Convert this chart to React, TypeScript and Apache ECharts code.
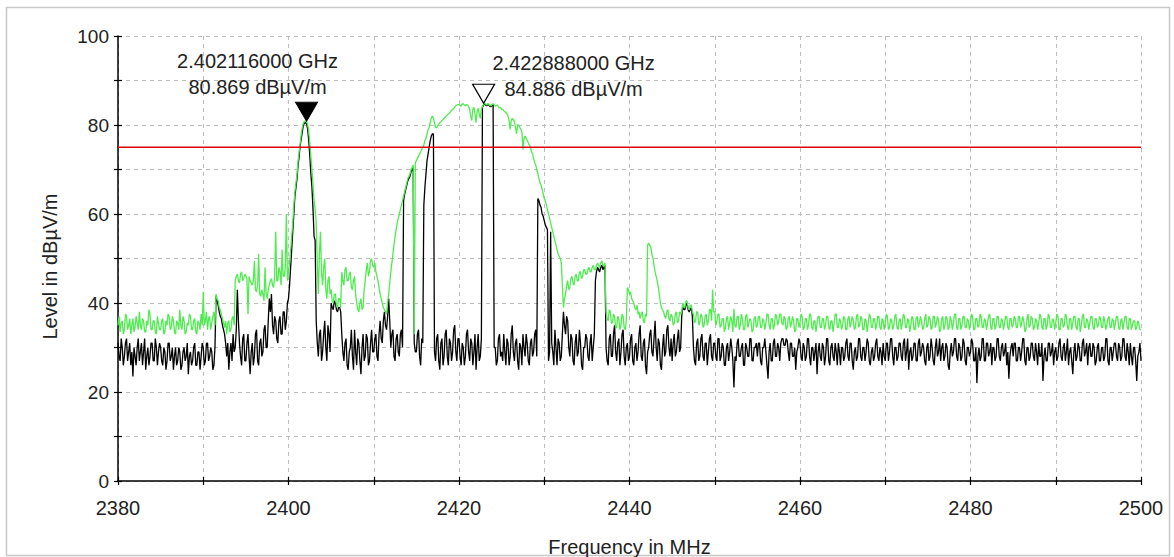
import React, { useEffect, useRef } from "react";
import * as echarts from "echarts";

// Sweep: 2380 MHz to 2500 MHz, one reading every 0.125 MHz (961 readings per trace)
const SWEEP_START_MHZ = 2380;
const SWEEP_STEP_MHZ = 0.125;

// Max-hold trace (green), dBµV/m, 40 readings (5 MHz) per row
const maxHoldLevels = [
  35, 37, 33.5, 35.5, 36, 33, 34, 37.5, 37, 34, 35, 36.5, 33, 35, 36.5, 33.5, 34.5, 37, 35.5, 34, 38, 35, 34, 36.5, 36, 33.5, 33.5, 36, 35, 38.5, 37.5, 34, 34, 36, 36, 33.5, 33, 37, 35.5, 34,
  34, 36, 36.5, 33, 33.5, 36, 35, 37.5, 37, 34, 34.5, 37, 36, 33.5, 33, 36, 35.5, 34, 38.5, 35, 34, 37, 36, 33, 33.5, 35.5, 35, 37.5, 37, 34, 34, 36, 36.5, 33.5, 33, 36, 35.5, 34, 37.5, 35,
  42.5, 35, 36, 38, 34, 36.5, 37, 34, 35.5, 37, 38, 35, 42, 41, 40.5, 39, 38.5, 37.5, 36.5, 35.5, 34.5, 36, 33, 35.5, 36, 33.5, 34, 36.5, 37, 35, 45, 46, 46.5, 45, 44.5, 46.5, 47, 45, 45.5, 46.5,
  46, 45.5, 37.5, 46, 45, 44.5, 44, 45, 49.5, 43, 42.5, 44, 51, 42, 41.5, 43, 42, 40.5, 48, 42, 41, 43, 44, 45, 45.5, 44, 43.5, 46, 56, 45, 45, 48, 47, 44, 52, 46, 46, 48, 60, 45,
  47, 49, 52, 55, 58, 62, 65, 67, 69, 72, 74, 76, 78, 79.5, 80.5, 80.8, 80.9, 80.7, 80.2, 78.5, 76, 73, 70, 66.5, 63, 61, 58, 49, 42, 51, 56, 47, 44, 48, 50, 43, 41, 45, 46, 42,
  43, 40.5, 40, 42, 42, 39.5, 39, 41, 41, 39, 47, 45, 44, 47.5, 48, 45, 45, 46.5, 47, 43.5, 43, 45, 46, 42, 40, 38.5, 38, 40, 41, 38.5, 39, 43, 45, 47.5, 49, 46, 47, 49.5, 50, 48.5,
  48, 49, 47, 46, 45, 43.5, 42, 41, 40, 39, 38.5, 38, 37.5, 40, 42, 44.5, 47, 49, 51, 53, 55, 56.5, 58, 59, 60, 61, 62, 63, 64, 65, 66, 67, 68, 68.5, 69, 70, 70.5, 71, 33, 71.5,
  72, 72.5, 73, 73.5, 74, 74.5, 75, 75.5, 76.5, 77, 78, 79, 79.5, 80.5, 81.5, 82, 81.6, 80.5, 79.5, 79.3, 79.8, 80.2, 80.5, 80.7, 81, 81.3, 81.5, 81.8, 82, 82.2, 82.5, 82.7, 83, 83.3, 83.5, 83.7, 84, 84.3, 84.5, 84.6,
  84.6, 84.4, 84.2, 84.7, 84.8, 84.5, 84.3, 84.6, 84.5, 84.2, 83.5, 82, 81, 83.5, 84, 82.5, 80.5, 83, 83.8, 82.5, 81.5, 83.5, 84.2, 84.6, 84.9, 84.7, 84.5, 84.8, 84.7, 84.4, 84.3, 84.6, 84.8, 84.6, 84.2, 84.4, 84.5, 84.1, 83.8, 84,
  83.5, 83.6, 83.2, 83, 82.8, 82.5, 82, 81, 79, 81, 81.5, 81.2, 80.8, 79.5, 78, 80, 80, 79.5, 79, 78.5, 74.5, 77, 77.5, 77, 76.5, 76, 75.5, 75, 74, 73.5, 72.5, 71.5, 71, 70, 69, 68, 67, 66.5, 65.5, 64.5,
  63.5, 63, 62, 61, 60, 59, 58, 57, 56, 55, 54, 53, 52, 51, 50.5, 50, 49, 44, 39, 41, 42, 44, 45, 43, 43.5, 45.5, 46, 44.5, 44, 46, 46.5, 45, 45, 47, 47, 45.5, 46, 47.5, 47.5, 46.5,
  46.5, 47.5, 48, 47, 47, 48, 48.5, 47.5, 47.5, 48.5, 49, 48.5, 48, 49, 49.5, 48.5, 48.5, 49, 38, 36.5, 36, 38.5, 38, 35.5, 35.5, 37.5, 37, 34.5, 34.5, 37, 36.5, 34, 35, 37.5, 37, 34.5, 34, 36, 43.5, 43,
  42, 42.5, 41, 40.5, 40, 39, 38.5, 39.5, 37.5, 38, 36.5, 37.5, 38, 36, 35.5, 37.5, 37, 53, 53.5, 53, 52.5, 51, 50, 48.5, 47, 46, 45, 43.5, 42, 40, 39, 38.5, 38, 37, 36.5, 38, 38.5, 36.5, 36, 37.5,
  37, 35, 35.5, 37.5, 38, 35.5, 36, 38, 37.5, 38, 40, 39, 39, 40.5, 40.5, 39, 38.5, 39.5, 39.5, 38, 37.5, 35.5, 36, 38, 38, 35, 35.5, 37.5, 37, 34.5, 35, 37, 37.5, 35, 36, 38.5, 38.5, 36, 43, 38,
  38, 35, 36, 37.5, 37.5, 34.5, 35, 36.5, 36.5, 33.5, 34.5, 36.5, 37, 34, 35.5, 37, 36, 33.5, 38.7, 35, 34.5, 37, 37, 34, 35, 37.5, 36.5, 34, 34, 37, 37.5, 34.5, 35.5, 36.5, 36, 33.5, 34, 36.5, 37, 34.5,
  35, 37, 37, 34.5, 34.5, 36.5, 36, 34, 35.5, 37.5, 37.5, 35, 34, 36.5, 36.5, 34, 35, 37.5, 37, 35, 36, 37.5, 37.5, 35.5, 35, 37, 36.5, 34, 34.5, 36.5, 37, 34.5, 35.5, 37, 36, 33.5, 34, 36.5, 36.5, 34.5,
  35.5, 37.5, 37, 34, 34.5, 36.5, 36.5, 34, 35, 37.5, 37.5, 34.5, 34, 36, 36, 33.5, 35.5, 37, 37, 34.5, 34.5, 36.5, 36.5, 34, 35, 37, 37, 34.5, 34, 36, 36, 33.5, 35.5, 37.5, 37.5, 34.5, 34.5, 36.5, 36, 34,
  35, 37, 36.5, 34, 34, 36.5, 37, 34.5, 35.5, 37, 36, 34, 34.5, 37, 37.5, 34.5, 35, 37, 36.5, 34, 34, 36.5, 36, 33.5, 35.5, 37.5, 37, 34.5, 34.5, 36.5, 36.5, 34, 35, 37, 37, 34.5, 34, 36.5, 36, 34,
  35.5, 37.5, 37, 34, 34.5, 36.5, 36, 34, 35, 37, 37.5, 34.5, 34, 36, 36.5, 34, 35.5, 37.5, 37, 34.5, 34.5, 36.5, 36, 33.5, 35, 37, 36.5, 34, 34, 36.5, 37, 34.5, 35.5, 37, 36, 34, 34.5, 36.5, 37.5, 34.5,
  35, 37, 36.5, 34, 34.5, 37, 37, 34.5, 35.5, 37, 36, 33.5, 34, 36.5, 37, 34, 35, 37, 36.5, 34, 34.5, 37, 36, 34, 35.5, 37.5, 37.5, 34.5, 34, 36.5, 36.5, 34, 35, 37, 37, 34.5, 34.5, 36.5, 36, 34,
  35.5, 37.5, 37, 34, 34, 36.5, 36.5, 34.5, 35, 37.5, 37, 34.5, 34.5, 36.5, 36, 34, 35.5, 37, 37.5, 34.5, 34, 36.5, 36.5, 34, 35, 37, 37, 34.5, 34.5, 36.5, 36, 34, 35.5, 37, 37, 34.5, 34, 36.5, 36.5, 34.5,
  35, 37, 36.5, 34.5, 34.5, 37, 37, 34.5, 35.5, 37, 36, 33.5, 34, 36.5, 37.5, 34.5, 35, 37, 36.5, 34, 34.5, 36.5, 36, 34, 35.5, 37.5, 37, 34.5, 34, 36.5, 36.5, 34, 35, 37.5, 37, 34.5, 34.5, 36.5, 36, 34,
  35.5, 37.5, 37, 34, 34, 36.5, 36.5, 34.5, 35, 37.5, 37, 34.5, 34, 36.5, 36.5, 34, 35.5, 37, 37, 34.5, 34, 36.5, 36.5, 33.5, 35, 37, 37.5, 34.5, 34.5, 36.5, 36, 34, 35.5, 37, 37, 34.5, 34, 36.5, 36.5, 34.5,
  35, 37, 36.5, 34.5, 34.5, 37, 36, 34, 35, 36.5, 37, 34.5, 34.5, 36.5, 36, 34, 35.5, 37, 37, 34.5, 34, 36, 36.5, 34, 35.5, 37, 37, 34.5, 34, 36.5, 36.5, 34, 35, 36, 36, 34, 34.5, 36, 35.5, 34,
  34,
];

// Clear-write trace (black), dBµV/m, 40 readings (5 MHz) per row
const clearWriteLevels = [
  31, 28, 27, 32, 30, 26, 28, 31, 32, 27, 29, 31, 26, 29, 23.5, 30, 28, 26, 30, 32, 27, 29, 31, 26, 29, 32, 25, 28, 30, 26, 28, 31, 31, 27, 27, 32, 30, 26, 29, 31,
  30, 27, 26, 30, 29, 25, 27, 31, 31, 27, 28, 30, 25, 28, 30, 26, 27, 30, 29, 25, 26, 29, 30, 27, 28, 31, 24, 28, 29, 26, 27, 30, 31, 26, 26, 29, 29, 25, 28, 31,
  30, 26, 27, 31, 31, 27, 28, 30, 29, 25, 26, 30, 41.5, 40.5, 39.5, 38, 37, 36.5, 35, 34, 33, 31, 28, 31, 25, 29, 31, 27, 33, 29, 30, 34, 43, 36, 31, 28, 26, 32, 33, 27,
  27, 31, 33, 28, 24, 29, 31, 26, 28, 33, 34, 27, 26, 31, 32, 28, 29, 34, 35, 30, 30, 36, 41, 38, 42, 35, 33, 37, 36, 32, 31, 36, 37, 33, 33, 38, 38, 34, 36, 40,
  41, 44, 48, 52, 56, 60, 64, 66, 68, 71, 73, 75.5, 77, 78.5, 80, 80.4, 80.6, 80.2, 79, 76.5, 73, 69, 66, 61, 55, 54, 36, 31, 28, 33, 34, 27, 29, 33, 36, 30, 27, 35, 33, 29,
  40, 39, 38.5, 40.5, 40, 38.5, 38, 39, 39, 38, 33, 29, 27, 31, 32, 26, 25, 29, 30, 34, 28, 25, 34, 29, 26, 32, 31, 27, 24, 30, 33, 27, 28, 33, 32, 26, 27, 31, 34, 29,
  29, 32, 33, 28, 27, 33, 36, 32, 31, 36, 38, 35, 34, 37, 41, 36, 30, 33, 34, 28, 27, 32, 33, 29, 28, 33, 34, 30, 63, 64.5, 65.5, 66.5, 67.5, 68, 68.5, 69.5, 70, 70.5, 31, 29,
  29, 33, 34, 28, 26, 32, 31, 62, 66, 69, 72, 73.5, 75, 76.5, 77.5, 78, 78, 29, 27, 32, 33, 27, 25, 31, 32, 26, 28, 33, 34, 28, 26, 32, 31, 27, 29, 34, 35, 29, 27, 32,
  32, 28, 26, 31, 30, 26, 28, 33, 34, 29, 27, 32, 31, 26, 29, 33, 25, 30, 33, 27, 28, 32, 84, 84.4, 84.7, 84.5, 84.3, 84.6, 84.5, 84.2, 84.1, 84.4, 84.6, 30, 30, 26, 27, 32, 33, 28,
  29, 27, 33, 29, 26, 32, 31, 26, 28, 33, 35, 29, 27, 31, 32, 27, 25, 31, 30, 26, 33, 30, 28, 33, 31, 27, 26, 31, 32, 28, 29, 33, 34, 28, 63.5, 63, 62, 61.5, 60, 59.5,
  58.5, 57.5, 57, 56.5, 27, 29, 56, 31, 29, 26, 34, 30, 26, 32, 31, 27, 28, 33, 38, 35, 33, 37, 36, 30, 28, 33, 32, 27, 26, 31, 33, 28, 29, 34, 31, 26, 25, 30, 30, 33,
  32, 28, 27, 31, 33, 27, 30, 33, 45, 47, 48, 47.5, 47, 48, 48.5, 47.5, 48, 48.5, 30, 27, 26, 32, 33, 28, 28, 33, 35, 29, 27, 31, 32, 26, 29, 33, 34, 28, 26, 30, 31, 27,
  28, 32, 33, 27, 26, 30, 31, 27, 29, 33, 35, 28, 27, 31, 32, 26, 24, 29, 30, 33, 34, 29, 28, 32, 36, 30, 27, 32, 31, 26, 25, 30, 33, 28, 29, 34, 35, 30, 28, 32,
  27, 31, 33, 28, 29, 32, 34, 29, 30, 37, 39.5, 38.5, 38.5, 39.5, 40, 38.5, 38, 38.5, 39, 37, 30, 27, 26, 31, 32, 27, 28, 32, 33, 28, 27, 31, 31, 26, 29, 32, 33, 28, 27, 31,
  31, 28, 27, 32, 32, 27, 28, 31, 30, 26, 26, 30, 31, 27, 29, 32, 30, 27, 21, 28, 27, 31, 32, 28, 28, 30, 31, 26, 26, 31, 30, 28, 28, 32, 32, 27, 27, 30, 30, 31,
  28, 31, 31, 27, 26, 30, 30, 32, 29, 26, 23, 29, 31, 27, 27, 31, 32, 28, 28, 31, 30, 27, 31, 32, 32, 30.5, 30.5, 32, 31.5, 29, 27, 31, 31, 28, 28, 30, 25, 29, 30, 32,
  31, 28, 27, 31, 30, 27, 28, 32, 32, 28, 26, 30, 30, 27, 29, 31, 24, 29, 31, 28, 27, 31, 30, 26, 28, 32, 32, 27, 26, 30, 31, 28, 27, 31, 29, 26, 31, 29, 26, 30,
  30, 27, 28, 31, 32, 28, 27, 31, 31, 27, 25, 29, 30, 27, 28, 32, 32, 28, 27, 30, 30, 27, 29, 32, 31, 27, 26, 29, 30, 27, 28, 31, 32, 28, 27, 30, 29, 26, 31, 28,
  27, 31, 31, 27, 29, 32, 32, 28, 26, 30, 30, 27, 28, 31, 31, 28, 27, 31, 32, 27, 29, 32, 25, 29, 30, 27, 28, 31, 31, 27, 27, 31, 32, 28, 29, 31, 30, 27, 26, 30,
  31, 27, 28, 32, 30, 27, 26, 30, 32, 28, 29, 32, 27, 30, 31, 27, 28, 31, 30, 26, 25, 29, 31, 28, 29, 32, 32, 28, 27, 31, 30, 27, 28, 32, 31, 27, 26, 30, 30, 28,
  29, 32, 31, 27, 27, 30, 22, 28, 30, 27, 28, 32, 32, 27, 27, 31, 31, 28, 29, 31, 26, 30, 30, 27, 28, 32, 32, 28, 27, 30, 31, 28, 29, 31, 26, 29, 23, 28, 30, 31,
  28, 31, 31, 27, 27, 30, 30, 27, 29, 32, 32, 27, 26, 30, 30, 27, 28, 31, 31, 28, 27, 31, 29, 26, 31, 28, 28, 31, 22.5, 28, 30, 27, 27, 31, 31, 28, 29, 31, 26, 29,
  30, 27, 28, 31, 32, 28, 27, 30, 31, 27, 29, 32, 26, 29, 30, 27, 24, 29, 31, 27, 28, 31, 30, 27, 27, 31, 32, 28, 29, 31, 26, 30, 31, 28, 28, 31, 30, 26, 27, 30,
  31, 27, 27, 30, 30, 27, 28, 32, 32, 27, 26, 30, 30, 27, 29, 31, 31, 28, 27, 31, 30, 27, 28, 32, 32, 28, 27, 31, 29, 26, 31, 28, 26, 30, 30, 27, 22.5, 28, 29, 31,
  27,
];

// Limit line, dBµV/m
const limitLevel = 75;

// Markers
const markerFreqsMHz = [2402.116, 2422.888];
const markerLevels = [80.869, 84.886];
const markerFilled = [true, false];

const xMin = 2380;
const xMax = 2500;
const yMin = 0;
const yMax = 100;

const FONT = "'Liberation Sans', Arial, sans-serif";

function toPairs(levels: number[]) {
  return levels.map((v, i) => [SWEEP_START_MHZ + i * SWEEP_STEP_MHZ, v]);
}

export default function App() {
  const ref = useRef<HTMLDivElement>(null);

  useEffect(() => {
    if (!ref.current) return;
    const chart = echarts.init(ref.current, undefined, { renderer: "svg" });

    const labelOffsets = [
      [-49, -47.5],
      [90, -27],
    ];

    const markerData: any[] = [];
    markerFreqsMHz.forEach((f, i) => {
      markerData.push({
        coord: [f, markerLevels[i]],
        symbol: "triangle",
        symbolRotate: 180,
        symbolSize: [22, 19],
        symbolOffset: [0, -9.5],
        itemStyle: markerFilled[i]
          ? { color: "#000", borderColor: "#000", borderWidth: 1 }
          : { color: "#fff", borderColor: "#000", borderWidth: 1.2 },
        label: { show: false },
      });
      markerData.push({
        coord: [f, markerLevels[i]],
        symbol: "rect",
        symbolSize: 1,
        itemStyle: { color: "rgba(0,0,0,0)" },
        label: {
          show: true,
          position: "inside",
          offset: labelOffsets[i],
          formatter:
            (f / 1000).toFixed(9) + " GHz\n" + markerLevels[i].toFixed(3) + " dBµV/m",
          color: "#222",
          fontSize: 20,
          fontFamily: FONT,
          lineHeight: 26,
          align: "center",
          verticalAlign: "middle",
        },
      });
    });

    const axisText = { color: "#222", fontFamily: FONT };

    chart.setOption({
      animation: false,
      backgroundColor: "#fff",
      graphic: [
        {
          type: "rect",
          shape: { x: 6.5, y: 7.5, width: 1163, height: 548 },
          style: { fill: "none", stroke: "#c8c8c8", lineWidth: 1.5 },
          silent: true,
        },
      ],
      grid: {
        left: 118,
        right: 33,
        top: 36,
        bottom: 76,
        containLabel: false,
        outerBoundsMode: "none",
      },
      xAxis: [
        {
          type: "value",
          min: xMin,
          max: xMax,
          interval: 10,
          axisLine: { show: true, onZero: false, lineStyle: { color: "#000", width: 1.5 } },
          axisTick: { show: true, length: 4, lineStyle: { color: "#000", width: 1.2 } },
          axisLabel: {
            ...axisText,
            fontSize: 20,
            margin: 17,
            formatter: (v: number) => (v % 20 === 0 ? String(v) : ""),
          },
          splitLine: { show: true, lineStyle: { color: "#bdbdbd", type: [4, 4], width: 1 } },
          name: "Frequency in MHz",
          nameLocation: "middle",
          nameGap: 56,
          nameTextStyle: { ...axisText, fontSize: 20 },
        },
        {
          type: "value",
          min: xMin,
          max: xMax,
          interval: 10,
          position: "bottom",
          axisLine: { show: false },
          axisTick: { show: true, inside: true, length: 4, lineStyle: { color: "#000", width: 1.2 } },
          axisLabel: { show: false },
          splitLine: { show: false },
        },
      ],
      yAxis: [
        {
          type: "value",
          min: yMin,
          max: yMax,
          interval: 10,
          axisLine: { show: true, onZero: false, lineStyle: { color: "#000", width: 1.5 } },
          axisTick: { show: true, length: 4, lineStyle: { color: "#000", width: 1.2 } },
          axisLabel: {
            ...axisText,
            fontSize: 19,
            margin: 9,
            formatter: (v: number) => (v % 20 === 0 ? String(v) : ""),
          },
          splitLine: { show: true, lineStyle: { color: "#bdbdbd", type: [4, 4], width: 1 } },
          name: "Level in dBµV/m",
          nameLocation: "middle",
          nameGap: 58,
          nameRotate: 90,
          nameTextStyle: { ...axisText, fontSize: 20, padding: [0, 16, 0, 0] },
        },
        {
          type: "value",
          min: yMin,
          max: yMax,
          interval: 10,
          position: "left",
          axisLine: { show: false },
          axisTick: { show: true, inside: true, length: 4, lineStyle: { color: "#000", width: 1.2 } },
          axisLabel: { show: false },
          splitLine: { show: false },
        },
      ],
      series: [
        {
          name: "Clear Write",
          type: "line",
          data: toPairs(clearWriteLevels),
          showSymbol: false,
          symbol: "none",
          lineStyle: { color: "#000", width: 1.3 },
          itemStyle: { color: "#000" },
          silent: true,
          z: 2,
        },
        {
          name: "Max Hold",
          type: "line",
          data: toPairs(maxHoldLevels),
          showSymbol: false,
          symbol: "none",
          lineStyle: { color: "#4fec4f", width: 1.3 },
          itemStyle: { color: "#4fec4f" },
          silent: true,
          z: 3,
          markPoint: {
            silent: true,
            data: markerData,
          },
        },
        {
          name: "Limit",
          type: "line",
          data: [
            [xMin, limitLevel],
            [xMax, limitLevel],
          ],
          showSymbol: false,
          symbol: "none",
          lineStyle: { color: "#e00000", width: 1.5 },
          itemStyle: { color: "#e00000" },
          silent: true,
          z: 4,
        },
      ],
    });

    return () => chart.dispose();
  }, []);

  return (
    <div
      ref={ref}
      style={{ position: "fixed", left: 0, top: 0, width: 1174, height: 557, background: "#fff" }}
    />
  );
}
